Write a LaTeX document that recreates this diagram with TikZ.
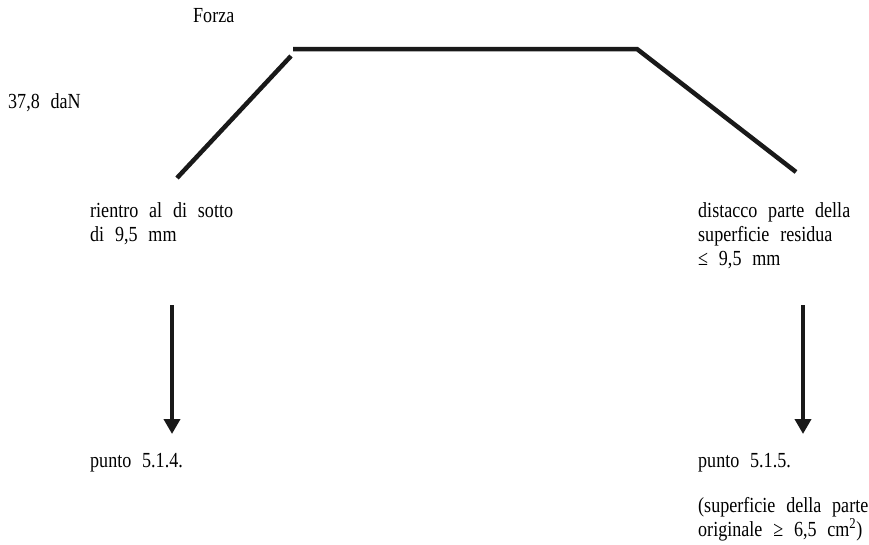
\documentclass[tikz,border=0pt]{standalone}
\usepackage{fontspec}
\setmainfont{Liberation Serif}[FakeStretch=0.84,WordSpace=2.4]
\usetikzlibrary{arrows.meta}
\begin{document}
\begin{tikzpicture}[x=1pt,y=-1pt,
  lbl/.style={anchor=base west,inner sep=0pt,align=left,
    font=\fontsize{21.5}{24}\selectfont},
  curve/.style={line width=4.5pt,line cap=butt,black!90},
  flow/.style={line width=4pt,black!90,-{Triangle[length=15pt,width=16pt]}}]
  \useasboundingbox (0,0) rectangle (869,544);

  % axis labels
  \node[lbl] (forza) at (193,22) {Forza};
  \node[lbl] (valore) at (8,108) {37,8 daN};

  % force profile
  \coordinate (l0) at (177,178);
  \coordinate (l1) at (291,56);
  \coordinate (p0) at (293,49);
  \coordinate (p1) at (637,49);
  \coordinate (r1) at (796,172);
  \draw[curve] (l0) -- (l1);
  \draw[curve,line join=miter] (p0) -- (p1) -- (r1);

  % left branch (base anchor sits on the last line)
  \node[lbl] (rientro) at (90,241) {rientro al di sotto\\di 9,5 mm};
  \coordinate (a0) at (172,305);
  \coordinate (a1) at (172,434);
  \draw[flow] (a0) -- (a1);
  \node[lbl] (p514) at (90,467) {punto 5.1.4.};

  % right branch
  \node[lbl] (distacco) at (698,265) {distacco parte della\\superficie residua\\≤ 9,5 mm};
  \coordinate (b0) at (803,305);
  \coordinate (b1) at (803,434);
  \draw[flow] (b0) -- (b1);
  \node[lbl] (p515) at (698,467) {punto 5.1.5.};
  \node[lbl] (nota) at (698,536) {(superficie della parte\\originale ≥ 6,5 cm\textsuperscript{2})};
\end{tikzpicture}
\end{document}
